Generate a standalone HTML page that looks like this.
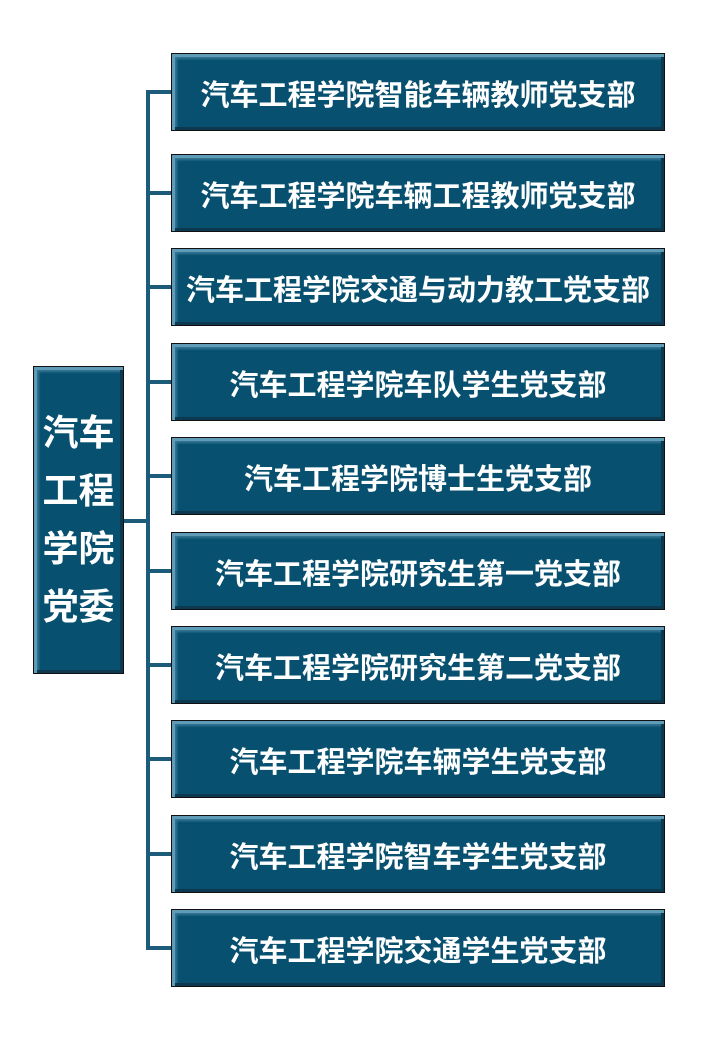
<!DOCTYPE html>
<html><head><meta charset="utf-8"><style>
body{margin:0;width:720px;height:1040px;background:#fff;position:relative;font-family:"Liberation Sans","Noto Sans CJK SC",sans-serif;overflow:hidden}
.b{position:absolute;box-sizing:border-box;background:#07506f;border:1px solid #111;color:#fff;font-weight:bold;display:flex;align-items:center;justify-content:center;
box-shadow:inset 3px 3px 0 #5f9ab6,inset -3px -3px 0 #0c3850,inset 5px 5px 2px rgba(140,190,215,.35);}
.r{left:171px;width:494px;height:78px;font-size:29px;letter-spacing:0px;white-space:nowrap;padding-top:2px}
.l{position:absolute;background:#1d5b7a}
</style></head><body>
<div class="l" style="left:146px;top:90px;width:4px;height:860px"></div>
<div class="l" style="left:123px;top:519px;width:26px;height:4px"></div>
<div class="b" style="left:33px;top:366px;width:91px;height:308px;font-size:36px;line-height:58px;text-align:center">汽车<br>工程<br>学院<br>党委</div>

<div class="l" style="left:146px;top:90px;width:26px;height:4px"></div>
<div class="b r" style="top:53px">汽车工程学院智能车辆教师党支部</div>
<div class="l" style="left:146px;top:191px;width:26px;height:4px"></div>
<div class="b r" style="top:154px">汽车工程学院车辆工程教师党支部</div>
<div class="l" style="left:146px;top:285px;width:26px;height:4px"></div>
<div class="b r" style="top:248px">汽车工程学院交通与动力教工党支部</div>
<div class="l" style="left:146px;top:380px;width:26px;height:4px"></div>
<div class="b r" style="top:343px">汽车工程学院车队学生党支部</div>
<div class="l" style="left:146px;top:474px;width:26px;height:4px"></div>
<div class="b r" style="top:437px">汽车工程学院博士生党支部</div>
<div class="l" style="left:146px;top:569px;width:26px;height:4px"></div>
<div class="b r" style="top:532px">汽车工程学院研究生第一党支部</div>
<div class="l" style="left:146px;top:663px;width:26px;height:4px"></div>
<div class="b r" style="top:626px">汽车工程学院研究生第二党支部</div>
<div class="l" style="left:146px;top:757px;width:26px;height:4px"></div>
<div class="b r" style="top:720px">汽车工程学院车辆学生党支部</div>
<div class="l" style="left:146px;top:852px;width:26px;height:4px"></div>
<div class="b r" style="top:815px">汽车工程学院智车学生党支部</div>
<div class="l" style="left:146px;top:946px;width:26px;height:4px"></div>
<div class="b r" style="top:909px">汽车工程学院交通学生党支部</div>
</body></html>
